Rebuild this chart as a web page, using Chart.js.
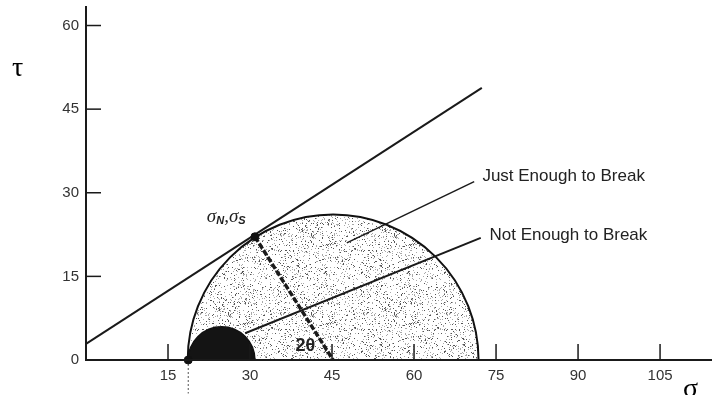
<!DOCTYPE html>
<html>
<head>
<meta charset="utf-8">
<script src="https://cdn.jsdelivr.net/npm/chart.js@4.4.0/dist/chart.umd.min.js"></script>
<style>
	html, body { margin: 0; padding: 0; background: #fff; }
	#wrap { width: 712px; height: 395px; }
</style>
</head>
<body>
<div id="wrap"><canvas id="mohrChart"></canvas></div>
<script>
// Tick labels
const xTicks = [15, 30, 45, 60, 75, 90, 105];
const yTicks = [0, 15, 30, 45, 60];

// Mohr circles (centre on sigma axis, radius)
const circleNames = ['Just Enough to Break', 'Not Enough to Break'];
const circleCentres = [45.2, 24.8];
const circleRadii = [26.6, 6.1];

// Failure envelope
const envelopeSigma = [0, 72.4];
const envelopeTau = [2.9, 48.8];

// Marked points (contact point sigmaN,sigmaS and circle start)
const pointSigma = [30.9, 18.7];
const pointTau = [22.1, 0];

// Radius for 2 theta
const radiusSigma = [30.9, 45.2];
const radiusTau = [22.1, 0];

// Leader lines for the labels
const justLeaderSigma = [47.7, 71.0];
const justLeaderTau = [21.0, 32.0];
const notLeaderSigma = [29.1, 72.2];
const notLeaderTau = [4.8, 21.9];

// Dashed mark under the circle start
const startMarkSigma = [18.7, 18.7];
const startMarkTau = [0, -6];

function toPoints(xs, ys) {
	return xs.map((v, i) => ({ x: v, y: ys[i] }));
}

// Stipple texture for the big circle
function makeStipple(ctx) {
	const c = document.createElement('canvas');
	c.width = 83; c.height = 79;
	const g = c.getContext('2d');
	g.fillStyle = '#fff';
	g.fillRect(0, 0, c.width, c.height);
	for (let y = 0; y < c.height; y++) {
		for (let x = 0; x < c.width; x++) {
			const h = Math.sin(x * 12.9898 + y * 78.233) * 43758.5453;
			const f = h - Math.floor(h);
			if (f < 0.14) {
				g.fillStyle = f < 0.055 ? '#555' : '#aaa';
				g.fillRect(x, y, 1, 1);
			}
		}
	}
	return ctx.createPattern(c, 'repeat');
}

const canvas = document.getElementById('mohrChart');
const ctx = canvas.getContext('2d');
const stipple = makeStipple(ctx);

// Bubble radius (pixels) taken from the sigma scale before each update
const circleSizer = {
	id: 'circleSizer',
	beforeUpdate(chart) {
		const xs = chart.scales.x;
		if (!xs || !xs.width) return;
		chart.data.datasets.forEach(ds => {
			if (ds.circleIndex === undefined) return;
			const i = ds.circleIndex;
			ds.data[0].r = xs.getPixelForValue(circleCentres[i] + circleRadii[i]) - xs.getPixelForValue(circleCentres[i]);
		});
	}
};

// Axis lines and inward ticks
const axesPlugin = {
	id: 'axesPlugin',
	afterDatasetsDraw(chart) {
		const { ctx, scales: { x, y } } = chart;
		ctx.save();
		ctx.strokeStyle = '#1a1a1a';
		ctx.lineWidth = 2;
		ctx.beginPath();
		ctx.moveTo(x.left, y.top);
		ctx.lineTo(x.left, y.bottom);
		ctx.lineTo(x.right, y.bottom);
		ctx.stroke();
		ctx.lineWidth = 1.5;
		xTicks.forEach(v => {
			const px = x.getPixelForValue(v);
			ctx.beginPath();
			ctx.moveTo(px, y.bottom);
			ctx.lineTo(px, y.bottom - 16);
			ctx.stroke();
		});
		yTicks.forEach(v => {
			if (v === 0) return;
			const py = y.getPixelForValue(v);
			ctx.beginPath();
			ctx.moveTo(x.left, py);
			ctx.lineTo(x.left + 15, py);
			ctx.stroke();
		});
		ctx.restore();
	}
};

// Text notes
const notes = [
	{ text: circleNames[0], sigma: 72.5, tau: 32.9 },
	{ text: circleNames[1], sigma: 73.8, tau: 22.4 }
];

const textPlugin = {
	id: 'textPlugin',
	afterDraw(chart) {
		const { ctx, scales: { x, y } } = chart;
		ctx.save();
		ctx.fillStyle = '#222';
		ctx.textBaseline = 'middle';
		ctx.textAlign = 'left';
		ctx.font = '17px "Liberation Sans", Arial, sans-serif';
		notes.forEach(n => {
			ctx.fillText(n.text, x.getPixelForValue(n.sigma), y.getPixelForValue(n.tau));
		});

		// sigma N, sigma S
		let px = x.getPixelForValue(22.1);
		const py = y.getPixelForValue(25.6);
		ctx.font = 'italic 19px "Liberation Serif", serif';
		ctx.fillText('σ', px, py);
		px += ctx.measureText('σ').width;
		ctx.font = 'italic bold 11px "Liberation Sans", sans-serif';
		ctx.fillText('N', px, py + 4);
		px += ctx.measureText('N').width;
		ctx.font = 'italic 19px "Liberation Serif", serif';
		ctx.fillText(',σ', px, py);
		px += ctx.measureText(',σ').width;
		ctx.font = 'italic bold 11px "Liberation Sans", sans-serif';
		ctx.fillText('S', px, py + 4);

		// 2 theta
		ctx.font = 'bold 18px "Liberation Sans", Arial, sans-serif';
		ctx.fillText('2θ', x.getPixelForValue(38.3), y.getPixelForValue(2.5));

		// axis symbols
		ctx.fillStyle = '#000';
		ctx.font = '28px "Liberation Serif", "Times New Roman", serif';
		ctx.textBaseline = 'alphabetic';
		ctx.fillText('τ', 12, 76);
		ctx.fillText('σ', 683, 397);
		ctx.restore();
	}
};

const lineStyle = {
	type: 'line',
	showLine: true,
	pointRadius: 0,
	borderColor: '#1a1a1a',
	fill: false,
	tension: 0,
	clip: false
};

window.myChart = new Chart(ctx, {
	type: 'scatter',
	data: {
		datasets: [
			{ ...lineStyle, data: toPoints(envelopeSigma, envelopeTau), borderWidth: 2, order: 1 },
			{ ...lineStyle, data: toPoints(radiusSigma, radiusTau), borderWidth: 3.5, borderDash: [6, 2], order: 1 },
			{ ...lineStyle, data: toPoints(notLeaderSigma, notLeaderTau), borderWidth: 2, order: 1 },
			{ ...lineStyle, data: toPoints(justLeaderSigma, justLeaderTau), borderWidth: 1.5, order: 1 },
			{ ...lineStyle, data: toPoints(startMarkSigma, startMarkTau), borderWidth: 1, borderDash: [2, 2], borderColor: '#555', order: 1 },
			{
				type: 'scatter',
				data: toPoints(pointSigma, pointTau),
				pointRadius: 4,
				backgroundColor: '#111',
				borderColor: '#111',
				order: 0,
				clip: false
			},
			{
				type: 'bubble',
				label: circleNames[1],
				circleIndex: 1,
				data: [{ x: circleCentres[1], y: 0 }],
				backgroundColor: '#141414',
				borderColor: '#111',
				borderWidth: 1.5,
				clip: 0,
				order: 2
			},
			{
				type: 'bubble',
				label: circleNames[0],
				circleIndex: 0,
				data: [{ x: circleCentres[0], y: 0 }],
				backgroundColor: stipple,
				borderColor: '#111',
				borderWidth: 2,
				clip: 0,
				order: 3
			}
		]
	},
	options: {
		responsive: true,
		maintainAspectRatio: false,
		animation: false,
		events: [],
		layout: { autoPadding: false, padding: { top: 6, right: 0, left: 0, bottom: 0 } },
		plugins: {
			legend: { display: false },
			tooltip: { enabled: false }
		},
		scales: {
			x: {
				type: 'linear',
				min: 0,
				max: 114.5,
				afterFit: s => { s.height = 35; s.paddingLeft = 0; s.paddingRight = 0; },
				afterBuildTicks: s => { s.ticks = xTicks.map(v => ({ value: v })); },
				grid: { display: false, drawTicks: false },
				border: { display: false },
				ticks: {
					padding: 7,
					color: '#333',
					font: { family: '"Liberation Sans", Arial, sans-serif', size: 15 }
				}
			},
			y: {
				type: 'linear',
				min: 0,
				max: 63.5,
				afterFit: s => { s.width = 86; s.paddingTop = 0; s.paddingBottom = 0; },
				afterBuildTicks: s => { s.ticks = yTicks.map(v => ({ value: v })); },
				grid: { display: false, drawTicks: false },
				border: { display: false },
				ticks: {
					padding: 7,
					color: '#333',
					font: { family: '"Liberation Sans", Arial, sans-serif', size: 15 }
				}
			}
		}
	},
	plugins: [circleSizer, axesPlugin, textPlugin]
});

// second pass: scales now have their size, so the circles get their radius
window.myChart.update();
</script>
</body>
</html>
